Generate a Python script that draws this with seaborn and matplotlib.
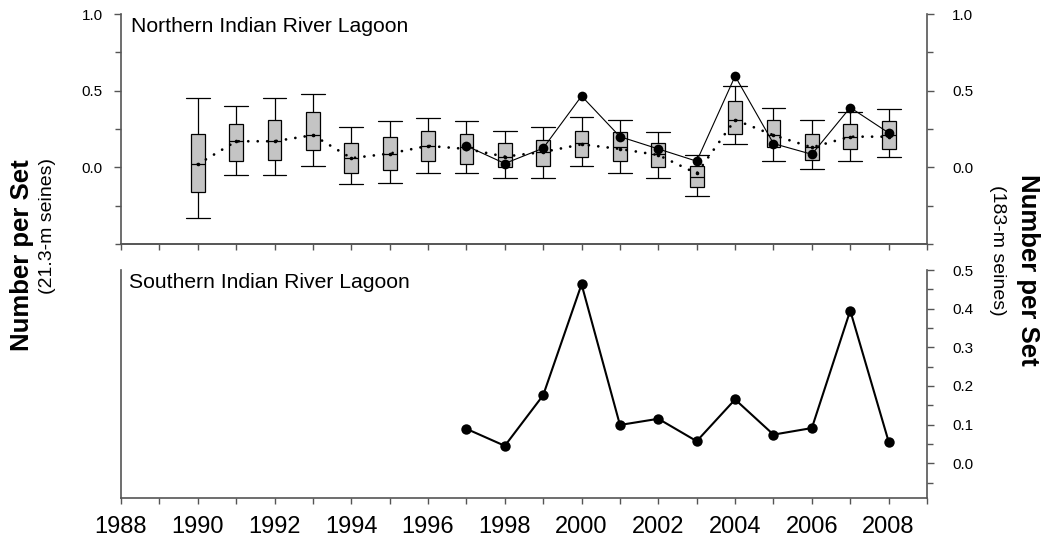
import numpy as np
import pandas as pd
import matplotlib
matplotlib.use("Agg")
import matplotlib.pyplot as plt
from matplotlib.ticker import MultipleLocator, FormatStrFormatter
import seaborn as sns

# Northern Indian River Lagoon, 21.3-m seines: yearly box summaries
years = [1990, 1991, 1992, 1993, 1994, 1995, 1996, 1997, 1998, 1999,
         2000, 2001, 2002, 2003, 2004, 2005, 2006, 2007, 2008]
whisker_low = [-0.33, -0.05, -0.05, 0.01, -0.11, -0.10, -0.04, -0.04, -0.07, -0.07,
               0.01, -0.04, -0.07, -0.19, 0.15, 0.04, -0.01, 0.04, 0.07]
q1 = [-0.16, 0.04, 0.05, 0.11, -0.04, -0.02, 0.04, 0.02, 0.00, 0.01,
      0.07, 0.04, 0.00, -0.13, 0.22, 0.13, 0.05, 0.12, 0.12]
median = [0.02, 0.17, 0.17, 0.21, 0.06, 0.09, 0.14, 0.13, 0.07, 0.10,
          0.16, 0.13, 0.09, -0.06, 0.31, 0.21, 0.13, 0.20, 0.21]
q3 = [0.22, 0.28, 0.31, 0.36, 0.16, 0.20, 0.24, 0.22, 0.16, 0.18,
      0.24, 0.23, 0.16, 0.01, 0.43, 0.31, 0.22, 0.28, 0.30]
whisker_high = [0.45, 0.40, 0.45, 0.48, 0.26, 0.30, 0.32, 0.30, 0.24, 0.26,
                0.33, 0.31, 0.23, 0.08, 0.53, 0.39, 0.31, 0.36, 0.38]
mean = [0.02, 0.17, 0.17, 0.21, 0.06, 0.09, 0.14, 0.12, 0.07, 0.10,
        0.15, 0.12, 0.08, -0.04, 0.31, 0.21, 0.13, 0.20, 0.20]

# Northern Indian River Lagoon, 183-m seines
north_years = [1997, 1998, 1999, 2000, 2001, 2002, 2003, 2004, 2005, 2006, 2007, 2008]
north_183 = [0.14, 0.025, 0.125, 0.465, 0.20, 0.12, 0.04, 0.595, 0.155, 0.085, 0.39, 0.225]

# Southern Indian River Lagoon, 183-m seines
south_years = [1997, 1998, 1999, 2000, 2001, 2002, 2003, 2004, 2005, 2006, 2007, 2008]
south_183 = [0.089, 0.045, 0.176, 0.463, 0.099, 0.115, 0.057, 0.165, 0.074, 0.091, 0.395, 0.056]

xtick_years = list(range(1988, 2009, 2))

sns.set_style("ticks")
plt.rcParams["font.family"] = ["Liberation Sans", "DejaVu Sans"]
plt.rcParams.update({"text.color": "black", "axes.labelcolor": "black",
                     "xtick.color": "black", "ytick.color": "black"})

W, H = 1047, 537
fig = plt.figure(figsize=(W / 100, H / 100), dpi=100)


def frac(left, top, right, bottom):
    return [left / W, 1 - bottom / H, (right - left) / W, (bottom - top) / H]


ax1 = fig.add_axes(frac(121, 14, 927, 244))
ax2 = fig.add_axes(frac(121, 270, 927, 498))

spine_color = "#555555"
tick_font = 11

# long-form table: each year's five-number summary
box_df = pd.DataFrame({
    "year": np.repeat(years, 5),
    "count": np.column_stack([whisker_low, q1, median, q3, whisker_high]).ravel(),
})

sns.boxplot(data=box_df, x="year", y="count", native_scale=True, ax=ax1,
            width=0.36, whis=(0, 100), color="#c4c4c4", saturation=1,
            linecolor="black", linewidth=0.9, fliersize=0, capwidths=0.62)

sns.lineplot(x=years, y=mean, ax=ax1, color="black", linewidth=2.0,
             linestyle=(0, (0.01, 3.4)), dash_capstyle="round",
             marker="o", markersize=2.6, markeredgewidth=0, zorder=5)

ax1.set_xlim(1988, 2009)
ax1.set_ylim(-0.5, 1.0)
ax1r = ax1.twinx()
sns.lineplot(x=north_years, y=north_183, ax=ax1r, color="black", linewidth=0.8,
             marker="o", markersize=7, markeredgewidth=0)
ax1r.set_ylim(-0.5, 1.0)
ax1r.set_xlim(1988, 2009)

for a in (ax1, ax1r):
    a.set_xlabel("")
    a.set_ylabel("")
    a.yaxis.set_major_locator(MultipleLocator(0.5))
    a.yaxis.set_minor_locator(MultipleLocator(0.25))
    a.yaxis.set_major_formatter(FormatStrFormatter("%.1f"))
    a.spines["top"].set_visible(False)
    for s in a.spines.values():
        s.set_color(spine_color)
        s.set_linewidth(1.2)
ax1.set_yticks([0.0, 0.5, 1.0])
ax1r.set_yticks([0.0, 0.5, 1.0])
ax1.tick_params(axis="y", which="major", length=5, width=1, color=spine_color,
                labelsize=tick_font, pad=8)
ax1.tick_params(axis="y", which="minor", length=4, width=1, color=spine_color)
ax1r.tick_params(axis="y", which="major", length=5, width=1, color=spine_color,
                 labelsize=tick_font, pad=13)
ax1r.tick_params(axis="y", which="minor", length=4, width=1, color=spine_color)
ax1.xaxis.set_major_locator(MultipleLocator(1))
ax1.tick_params(axis="x", length=4, width=1, color=spine_color, labelbottom=False)
ax1r.spines["left"].set_visible(False)
ax1.spines["right"].set_visible(False)

# bottom panel
sns.lineplot(x=south_years, y=south_183, ax=ax2, color="black", linewidth=1.5,
             marker="o", markersize=7.5, markeredgewidth=0)
ax2.set_xlim(1988, 2009)
ax2.set_ylim(-0.09, 0.5)
ax2.set_xlabel("")
ax2.set_ylabel("")
ax2.yaxis.tick_right()
ax2.yaxis.set_major_locator(MultipleLocator(0.1))
ax2.yaxis.set_minor_locator(MultipleLocator(0.05))
ax2.yaxis.set_major_formatter(FormatStrFormatter("%.1f"))
ax2.set_yticks(np.arange(0, 0.51, 0.1))
ax2.spines["top"].set_visible(False)
for s in ax2.spines.values():
    s.set_color(spine_color)
    s.set_linewidth(1.2)
ax2.tick_params(axis="y", which="major", length=5, width=1, color=spine_color,
                labelsize=tick_font, pad=13)
ax2.tick_params(axis="y", which="minor", length=4, width=1, color=spine_color)
ax2.set_xticks(xtick_years)
ax2.xaxis.set_minor_locator(MultipleLocator(1))
ax2.set_xticklabels([str(y) for y in xtick_years])
ax2.tick_params(axis="x", which="both", length=4, width=1, color=spine_color,
                labelsize=17, pad=9)

ax1.text(131 / W, 1 - 27 / H, "Northern Indian River Lagoon", transform=fig.transFigure,
         fontsize=15.2, ha="left", va="center")
ax2.text(129 / W, 1 - 283 / H, "Southern Indian River Lagoon", transform=fig.transFigure,
         fontsize=15.2, ha="left", va="center")

fig.text(22 / W, 1 - 255 / H, "Number per Set", rotation=90, fontsize=18.5,
         fontweight="bold", ha="center", va="center")
fig.text(47 / W, 1 - 226 / H, "(21.3-m seines)", rotation=90, fontsize=14,
         ha="center", va="center")
fig.text(998 / W, 1 - 250 / H, "(183-m seines)", rotation=270, fontsize=14,
         ha="center", va="center")
fig.text(1028 / W, 1 - 270 / H, "Number per Set", rotation=270, fontsize=18.5,
         fontweight="bold", ha="center", va="center")

fig.savefig("out.png", dpi=100)
